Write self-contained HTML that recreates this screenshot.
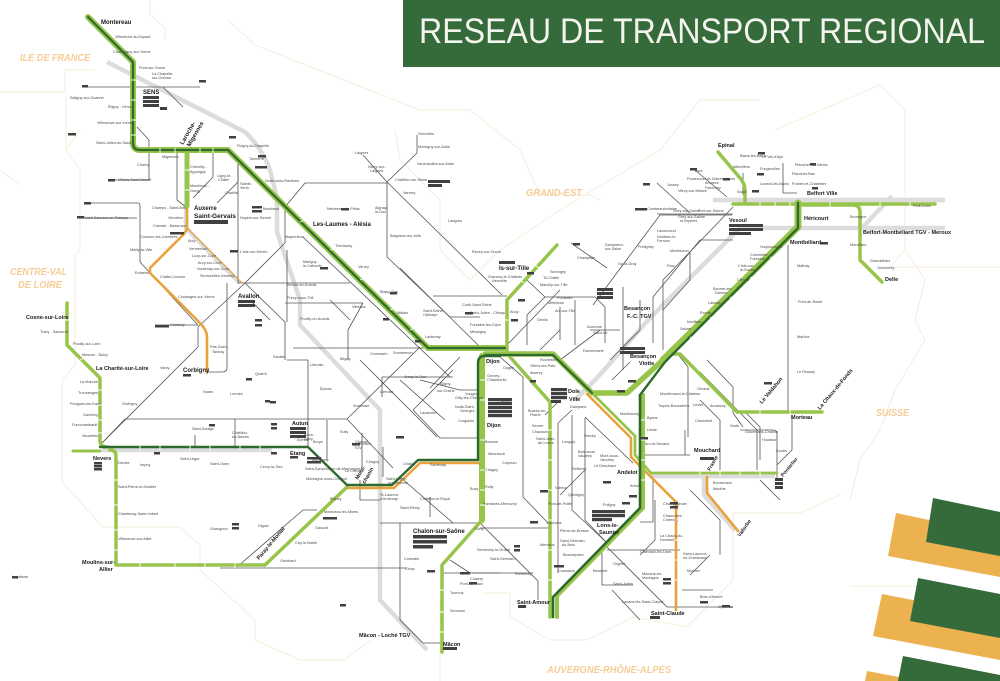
<!DOCTYPE html>
<html><head><meta charset="utf-8">
<style>
html,body{margin:0;padding:0;background:#fff;}
svg{display:block;}
.t{font-family:"Liberation Sans",sans-serif;font-size:3.8px;fill:#4a4a4a;}
.b{font-family:"Liberation Sans",sans-serif;font-weight:bold;fill:#1a1a1a;}
.r{font-family:"Liberation Sans",sans-serif;font-weight:bold;font-style:italic;fill:#f5cd95;}
.g{fill:none;stroke:#555;stroke-width:0.8;stroke-linejoin:round;}
.bx{fill:#404040;}
</style></head>
<body>
<svg width="1000" height="681" viewBox="0 0 1000 681" xmlns="http://www.w3.org/2000/svg">
<rect width="1000" height="681" fill="#fff"/>

<!-- region borders -->
<g fill="none" stroke="#f6eedc" stroke-width="1">
<path d="M0,92 H65 V70 H95"/>
<path d="M66,95 V150 L80,170 V250 L75,255 V365 L62,380 V482 L103,527 H180 L200,545 V570 L255,620 V640 L300,660 H345 L370,640"/>
<path d="M80,130 L66,150"/>
<path d="M150,0 V14 L165,28 V40"/>
<path d="M228,20 L255,45 L420,110 L470,110 L520,150 L540,195 L590,195 L600,200"/>
<path d="M395,130 L400,160 L440,200 L440,250 L470,280"/>
<path d="M470,280 L500,250 L560,210 L660,150 L700,100 L760,100"/>
<path d="M775,130 L880,85 L905,110 V250 L890,267 H1000"/>
<path d="M905,250 L925,280 L915,320 L925,340 L895,390 L880,430 L860,460 L850,500"/>
<path d="M482,593 H510 V617 L550,640 L587,640 L633,617 L687,627 L733,580 V513 H800 L840,495"/>
<path d="M850,586 H920"/>
<path d="M440,600 V681"/>
<path d="M0,170 L20,185"/>
</g>

<!-- TGV light gray -->
<g fill="none" stroke="#dcdcdc" stroke-width="4.5" stroke-linejoin="round">
<path d="M107,62 L245,132 Q262,148 270,170 L277,198 V232 L300,300 V325 L380,410 V600 L427,650"/>
<path d="M575,400 L597,378 L650,318 L740,228 H945"/>
<path d="M862,228 L892,196"/>
<path d="M713,200 H945"/>
<path d="M102,450 H272"/>
<path d="M650,476 H775"/>
<path d="M704,476 V495 L735,530"/>
<path d="M186,205 V228 L240,283"/>
</g>

<!-- thin gray network -->
<g class="g">
<path d="M82,87 H200"/><path d="M163,87 L183,107"/>
<path d="M137,127 L149,140 V180 H110"/>
<path d="M177,153 V200 L186,207"/>
<path d="M213,150 V177 L193,198"/>
<path d="M238,163 V182 L217,203"/>
<path d="M88,203 H138 Q140,203 140,206 V262 L198,325"/>
<path d="M77,218 H137"/><path d="M155,325 H198"/>
<path d="M102,443 L198,347 V327 L245,283"/>
<path d="M227,283 V368 Q227,372 222,372 H208"/>
<path d="M238,162 V283 H285"/>
<path d="M245,283 L285,243 V207 L305,183 H387"/>
<path d="M245,283 L285,322 V360"/>
<path d="M303,237 L450,377"/>
<path d="M285,283 H350"/><path d="M285,303 H363"/>
<path d="M348,360 V330 L363,303"/>
<path d="M293,348 H430"/>
<path d="M287,250 V322"/>
<path d="M287,360 H308 V447"/>
<path d="M387,182 V257 L450,317 H480"/>
<path d="M387,182 L502,295"/>
<path d="M387,182 L417,153 V135"/>
<path d="M387,182 L363,155"/>
<path d="M433,296 H507"/>
<path d="M400,268 L480,347"/>
<path d="M125,419 H347"/><path d="M125,419 L102,443"/>
<path d="M235,419 V447"/><path d="M195,435 V447"/>
<path d="M347,419 L420,347"/>
<path d="M347,419 L393,468"/>
<path d="M327,420 V460"/><path d="M362,433 V467"/>
<path d="M382,377 V397"/><path d="M382,377 H453"/>
<path d="M413,410 L453,370"/>
<path d="M413,410 L440,438 H477"/>
<path d="M360,360 L437,437"/>
<path d="M400,477 L453,523"/>
<path d="M383,447 V477"/>
<path d="M380,523 H477"/>
<path d="M430,497 V517"/>
<path d="M400,523 V620 L423,643 H440"/>
<path d="M450,560 L470,573 H500"/>
<path d="M220,568 H407"/>
<path d="M237,567 L303,510 H317"/>
<path d="M420,380 L460,390 H477"/>
<path d="M400,380 L445,420"/>
<path d="M460,357 L430,388"/>
<path d="M571,243 L607,268"/>
<path d="M593,305 L660,215 H732"/>
<path d="M653,297 L700,240 H733"/>
<path d="M653,297 V343"/><path d="M623,287 V370"/>
<path d="M690,253 V280 L663,310"/>
<path d="M545,297 H595 L605,307 V343"/>
<path d="M545,297 L527,315 V345"/>
<path d="M560,307 V340"/>
<path d="M507,345 L560,290"/>
<path d="M575,300 V345"/>
<path d="M590,330 H620"/>
<path d="M527,280 L545,297"/>
<path d="M500,357 L523,377 V497 L550,525"/>
<path d="M480,528 H550"/>
<path d="M480,523 L538,581 V600"/>
<path d="M443,573 H533"/>
<path d="M558,423 V573"/>
<path d="M558,423 L572,410"/>
<path d="M572,415 V510 L607,543"/>
<path d="M585,418 V520 L607,543"/>
<path d="M585,417 L633,463"/>
<path d="M607,547 L667,607 H733"/>
<path d="M607,550 H680"/>
<path d="M602,553 V585 H633"/>
<path d="M653,480 V522 H640"/>
<path d="M640,455 H690"/><path d="M685,430 V455"/>
<path d="M677,353 L688,367 V437"/>
<path d="M707,360 L733,387 V413 L743,427"/>
<path d="M740,430 H773 Q777,430 777,434 V480"/>
<path d="M792,417 V450 L777,465"/>
<path d="M682,590 H713"/>
<path d="M788,245 V413"/>
<path d="M783,163 V193 H797"/>
<path d="M743,173 V195"/>
<path d="M657,183 L690,213"/>
<path d="M733,207 L663,280 V350"/>
<path d="M727,197 L695,170"/>
<path d="M657,214 H733"/>
<path d="M700,372 L757,430 V470"/>
<path d="M745,412 L760,427 V460"/>
<path d="M700,400 L720,420 V470"/>
<path d="M610,360 L640,330 V300"/>
<path d="M560,360 L600,330"/>
<path d="M540,350 L560,330"/>
<path d="M612,380 L630,362"/>
<path d="M655,500 V540 L640,555"/>
<path d="M690,490 L720,520 V555"/>
<path d="M760,480 L780,500"/>
<path d="M360,480 V500 H380"/>
<path d="M330,300 L350,320"/>
<path d="M250,300 L270,320"/>
<path d="M560,400 L545,415"/>
<path d="M585,470 L560,495"/>
<path d="M612,590 L640,620"/>
<path d="M690,575 L710,555"/>
</g>

<!-- orange lines -->
<g fill="none" stroke="#e9a23b" stroke-width="2.6" stroke-linejoin="round" stroke-linecap="round">
<path d="M187,206 V228 Q186,232 183,235 L150,268 V273 L200,323 Q207,330 207,337 V372"/>
<path d="M188,229 L242,283" stroke-width="1.2"/>
<path d="M587,394 L631,438 V457 L676,502 V610"/>
<path d="M707,477 V493 L738,531"/>
<path d="M481,523 V463 H420 L394,488 H348"/>
</g>

<!-- light green lines -->
<g fill="none" stroke="#97c44a" stroke-linejoin="round" stroke-linecap="round">
<path stroke-width="6" d="M88,17 L133,62 V143 Q133,150 140,150 H228 L428,348 H505"/>
<path stroke-width="5" d="M187,150 V206"/>
<path stroke-width="3.5" d="M507,350 V300 L557,245"/>
<path stroke-width="6" d="M482,356 V520"/>
<path stroke-width="3.5" d="M482,520 L442,565 V652"/>
<path stroke-width="5.5" d="M485,354 H553 L592,393 H627 L663,360"/>
<path stroke-width="7" d="M663,360 L798,227 V203"/>
<path stroke-width="3.5" d="M733,204 H935"/>
<path stroke-width="3.5" d="M803,205 H853 Q860,205 860,212 V260 L882,282"/>
<path stroke-width="3.5" d="M718,152 L740,178 Q745,184 745,190 V202"/>
<path stroke-width="3.5" d="M672,354 H680 L737,412 H822"/>
<path stroke-width="4" d="M643,395 V508 L557,596 V617"/>
<path stroke-width="2.8" d="M591,392 L635,436 V455 L651,473 H777"/>
<path stroke-width="3.5" d="M510,357 L550,402 V617"/>
<path stroke-width="3.5" d="M67,303 V345 L100,378 V440 Q100,447 107,447"/>
<path stroke-width="3" d="M73,451 H100"/>
<path stroke-width="3.5" d="M110,450 Q116,450 116,456 V565 H265 L347,487"/>
</g>

<!-- dark green lines -->
<g fill="none" stroke="#2e6a2e" stroke-linejoin="round" stroke-linecap="round">
<path stroke-width="2.2" d="M88,17 L133,62 V143 Q133,150 140,150 H228 L428,348 H505"/>
<path stroke-width="2.4" d="M500,356 H485 Q478,356 478,363 V460 H418 L392,485 H347 L308,447 H100"/>
<path stroke-width="2.2" d="M485,355 H553 L592,393"/>
<path stroke-width="2.4" d="M640,395 L665,362 L798,228 V203"/>
<path stroke-width="2.6" d="M640,395 V508 L553,597 V617"/>
</g>

<!-- station boxes -->
<g class="bx">
<rect x="143" y="96" width="16" height="3"/><rect x="143" y="100" width="16" height="3"/><rect x="143" y="104" width="16" height="3"/>
<rect x="160" y="107" width="7" height="3"/>
<rect x="194" y="220" width="34" height="4"/>
<rect x="238" y="300" width="17" height="3"/><rect x="238" y="304" width="17" height="3"/>
<rect x="488" y="398" width="24" height="3.2"/><rect x="488" y="402" width="24" height="3.2"/><rect x="488" y="406" width="24" height="3.2"/><rect x="488" y="410" width="24" height="3.2"/><rect x="488" y="414" width="24" height="3.2"/>
<rect x="413" y="535" width="34" height="3.5"/><rect x="413" y="540" width="34" height="3.5"/><rect x="413" y="545" width="20" height="3.5"/>
<rect x="592" y="510" width="33" height="3.2"/><rect x="592" y="514" width="33" height="3.2"/><rect x="592" y="518" width="20" height="3.2"/>
<rect x="290" y="427" width="16" height="3"/><rect x="290" y="431" width="16" height="3"/><rect x="290" y="435" width="16" height="3"/>
<rect x="729" y="224" width="34" height="3"/><rect x="729" y="228" width="34" height="3"/><rect x="729" y="232" width="22" height="3"/>
<rect x="597" y="288" width="16" height="3"/><rect x="597" y="292" width="16" height="3"/><rect x="597" y="296" width="16" height="3"/>
<rect x="620" y="347" width="25" height="3"/><rect x="620" y="351" width="25" height="3"/>
<rect x="551" y="388" width="16" height="3.2"/><rect x="551" y="392" width="16" height="3.2"/><rect x="551" y="396" width="16" height="3.2"/><rect x="551" y="400" width="10" height="3"/>
<rect x="499" y="261" width="16" height="3"/>
<rect x="94" y="462" width="8" height="2.5"/><rect x="94" y="465" width="8" height="2.5"/><rect x="94" y="468" width="8" height="2.5"/>
<rect x="290" y="456" width="8" height="2.5"/>
<rect x="183" y="374" width="8" height="2.5"/>
<rect x="443" y="647" width="14" height="3"/>
<rect x="518" y="605" width="8" height="3"/>
<rect x="650" y="616" width="10" height="3"/>
<rect x="700" y="457" width="14" height="3"/>
<rect x="775" y="478" width="8" height="3"/><rect x="775" y="482" width="8" height="3"/><rect x="775" y="486" width="8" height="3"/>
<rect x="428" y="180" width="22" height="3"/><rect x="428" y="184" width="14" height="3"/>
<rect x="170" y="232" width="14" height="2.5"/>
<rect x="155" y="325" width="14" height="2.5"/>
<rect x="68" y="133" width="8" height="2.5"/><rect x="82" y="85" width="6" height="2.5"/>
<rect x="199" y="80" width="7" height="2.5"/>
<rect x="84" y="202" width="7" height="2.5"/><rect x="77" y="216" width="7" height="2.5"/>
<rect x="108" y="179" width="7" height="2.5"/>
<rect x="229" y="136" width="7" height="2.5"/><rect x="258" y="155" width="8" height="2.5"/>
<rect x="255" y="166" width="12" height="2.5"/>
<rect x="252" y="206" width="10" height="2.5"/><rect x="252" y="210" width="10" height="2.5"/>
<rect x="341" y="208" width="8" height="2.5"/>
<rect x="320" y="267" width="8" height="2.5"/>
<rect x="255" y="319" width="7" height="2.5"/><rect x="255" y="324" width="7" height="2.5"/>
<rect x="390" y="292" width="7" height="2.5"/>
<rect x="465" y="312" width="8" height="2.5"/>
<rect x="511" y="319" width="7" height="2.5"/>
<rect x="518" y="299" width="7" height="2.5"/>
<rect x="527" y="272" width="7" height="2.5"/>
<rect x="573" y="243" width="7" height="2.5"/>
<rect x="643" y="183" width="7" height="2.5"/>
<rect x="635" y="208" width="12" height="2.5"/>
<rect x="690" y="168" width="7" height="2.5"/><rect x="723" y="178" width="7" height="2.5"/>
<rect x="758" y="152" width="7" height="2.5"/><rect x="757" y="173" width="7" height="2.5"/><rect x="752" y="190" width="7" height="2.5"/>
<rect x="810" y="163" width="6" height="2.5"/><rect x="812" y="187" width="6" height="2.5"/>
<rect x="820" y="242" width="8" height="2.5"/>
<rect x="764" y="382" width="8" height="2.5"/>
<rect x="640" y="437" width="8" height="2.5"/>
<rect x="603" y="481" width="8" height="2.5"/>
<rect x="622" y="502" width="8" height="2.5"/><rect x="629" y="495" width="8" height="2.5"/>
<rect x="617" y="390" width="8" height="2.5"/><rect x="628" y="380" width="8" height="2.5"/>
<rect x="670" y="502" width="8" height="2.5"/><rect x="670" y="506" width="8" height="2.5"/>
<rect x="663" y="578" width="8" height="2.5"/><rect x="663" y="582" width="8" height="2.5"/>
<rect x="700" y="601" width="8" height="2.5"/><rect x="722" y="605" width="8" height="2.5"/>
<rect x="530" y="521" width="8" height="2.5"/>
<rect x="554" y="565" width="10" height="2.5"/>
<rect x="540" y="490" width="8" height="2.5"/>
<rect x="530" y="380" width="6" height="2.5"/>
<rect x="514" y="545" width="6" height="2.5"/><rect x="514" y="549" width="6" height="2.5"/>
<rect x="460" y="572" width="10" height="2.5"/>
<rect x="427" y="570" width="8" height="2.5"/>
<rect x="469" y="582" width="8" height="2.5"/>
<rect x="396" y="436" width="8" height="2.5"/>
<rect x="307" y="457" width="14" height="2.5"/><rect x="307" y="461" width="14" height="2.5"/>
<rect x="352" y="443" width="8" height="2.5"/>
<rect x="415" y="340" width="6" height="2.5"/>
<rect x="246" y="378" width="6" height="2.5"/><rect x="270" y="401" width="6" height="2.5"/>
<rect x="271" y="423" width="6" height="2.5"/><rect x="271" y="427" width="6" height="2.5"/>
<rect x="232" y="523" width="7" height="2.5"/><rect x="232" y="527" width="7" height="2.5"/>
<rect x="323" y="517" width="14" height="2.5"/>
<rect x="265" y="400" width="5" height="2.5"/>
<rect x="154" y="452" width="6" height="2.5"/><rect x="271" y="452" width="6" height="2.5"/>
<rect x="209" y="424" width="6" height="2.5"/>
<rect x="230" y="250" width="8" height="2.5"/>
<rect x="12" y="576" width="6" height="2.5"/>
<rect x="340" y="604" width="6" height="2.5"/>
<rect x="383" y="318" width="6" height="2.5"/>
</g>

<!-- decorations -->
<polygon points="896,513 1000,535 1000,577 888,556" fill="#ebb24f"/>
<polygon points="933,498 1000,512 1000,556 926,542" fill="#356a3a"/>
<polygon points="882,594 1000,617 1000,660 873,636" fill="#ebb24f"/>
<polygon points="918,578 1000,594 1000,638 910,621" fill="#356a3a"/>
<polygon points="867,671 920,681 865,681" fill="#ebb24f"/>
<polygon points="903,656 1000,675 1000,681 898,681" fill="#356a3a"/>

<!-- header -->
<rect x="403" y="0" width="597" height="67" fill="#356a3a"/>
<text x="419" y="43" font-family="Liberation Sans, sans-serif" font-size="35" fill="#f4f4ee" textLength="566" lengthAdjust="spacingAndGlyphs">RESEAU DE TRANSPORT REGIONAL</text>

<!-- region labels -->
<text class="r" x="20" y="61" font-size="10" textLength="70" lengthAdjust="spacingAndGlyphs">ILE DE FRANCE</text>
<text class="r" x="10" y="275" font-size="10" textLength="57" lengthAdjust="spacingAndGlyphs">CENTRE-VAL</text>
<text class="r" x="18" y="288" font-size="10" textLength="44" lengthAdjust="spacingAndGlyphs">DE LOIRE</text>
<text class="r" x="526" y="196" font-size="10" textLength="56" lengthAdjust="spacingAndGlyphs">GRAND-EST</text>
<text class="r" x="876" y="416" font-size="10" textLength="33" lengthAdjust="spacingAndGlyphs">SUISSE</text>
<text class="r" x="547" y="673" font-size="10" textLength="124" lengthAdjust="spacingAndGlyphs">AUVERGNE-RHÔNE-ALPES</text>

<!-- major station labels -->
<g class="b">
<text x="101" y="24" font-size="6">Montereau</text>
<text x="143" y="94" font-size="6">SENS</text>
<text x="183" y="145" font-size="6" transform="rotate(-60 183 145)">Laroche-</text>
<text x="190" y="147" font-size="6" transform="rotate(-60 190 147)">Migennes</text>
<text x="194" y="210" font-size="6">Auxerre</text>
<text x="194" y="218" font-size="6.5">Saint-Gervais</text>
<text x="313" y="226" font-size="6">Les-Laumes - Alésia</text>
<text x="238" y="298" font-size="6">Avallon</text>
<text x="183" y="372" font-size="6">Corbigny</text>
<text x="26" y="319" font-size="5.5">Cosne-sur-Loire</text>
<text x="96" y="370" font-size="5.5">La Charité-sur-Loire</text>
<text x="93" y="460" font-size="5.5">Nevers</text>
<text x="292" y="425" font-size="5.5">Autun</text>
<text x="290" y="455" font-size="5.5">Etang</text>
<text x="358" y="480" font-size="5.5" transform="rotate(-60 358 480)">Mont-</text>
<text x="365" y="484" font-size="5.5" transform="rotate(-60 365 484)">chanin</text>
<text x="82" y="564" font-size="5.5">Moulins-sur-</text>
<text x="99" y="571" font-size="5.5">Allier</text>
<text x="259" y="560" font-size="5.5" transform="rotate(-50 259 560)">Paray-le-Monial</text>
<text x="413" y="533" font-size="6">Chalon-sur-Saône</text>
<text x="359" y="637" font-size="5.5">Mâcon - Loché TGV</text>
<text x="443" y="646" font-size="5.5">Mâcon</text>
<text x="486" y="363" font-size="5.5">Dijon</text>
<text x="487" y="427" font-size="5.5">Dijon</text>
<text x="499" y="270" font-size="6">Is-sur-Tille</text>
<text x="568" y="393" font-size="5.5">Dole</text>
<text x="569" y="401" font-size="5.5">Ville</text>
<text x="624" y="310" font-size="5.5">Besançon</text>
<text x="627" y="318" font-size="5.5">F.-C. TGV</text>
<text x="630" y="358" font-size="5.5">Besançon</text>
<text x="639" y="365" font-size="5.5">Viotte</text>
<text x="729" y="222" font-size="5.5">Vesoul</text>
<text x="718" y="147" font-size="5.5">Epinal</text>
<text x="807" y="195" font-size="5.5">Belfort Ville</text>
<text x="804" y="220" font-size="5.5">Héricourt</text>
<text x="790" y="244" font-size="5.5">Montbéliard</text>
<text x="863" y="234" font-size="5.5">Belfort-Montbéliard TGV - Meroux</text>
<text x="885" y="281" font-size="5.5">Delle</text>
<text x="617" y="474" font-size="5.5">Andelot</text>
<text x="694" y="452" font-size="5.5">Mouchard</text>
<text x="710" y="471" font-size="5" transform="rotate(-60 710 471)">Frasne</text>
<text x="783" y="477" font-size="5" transform="rotate(-50 783 477)">Pontarlier</text>
<text x="740" y="537" font-size="5" transform="rotate(-55 740 537)">Vallorbe</text>
<text x="597" y="527" font-size="5.5">Lons-le-</text>
<text x="599" y="534" font-size="5.5">Saunier</text>
<text x="517" y="604" font-size="5.5">Saint-Amour</text>
<text x="651" y="615" font-size="5.5">Saint-Claude</text>
<text x="791" y="419" font-size="5.5">Morteau</text>
<text x="762" y="404" font-size="5.5" transform="rotate(-50 762 404)">Le Valdahon</text>
<text x="820" y="410" font-size="5.5" transform="rotate(-50 820 410)">La Chaux-de-Fonds</text>
</g>

<!-- small station labels -->
<g class="t">
<text x="115" y="38">Villeneuve-la-Guyard</text>
<text x="113" y="53">Champigny-sur-Yonne</text>
<text x="139" y="69">Pont-sur-Yonne</text>
<text x="152" y="75">La Chapelle-</text><text x="152" y="79">sur-Oreuse</text>
<text x="70" y="99">Saligny-sur-Ouanne</text>
<text x="108" y="108">Étigny - Véron</text>
<text x="97" y="124">Villeneuve-sur-Yonne</text>
<text x="96" y="144">Saint-Julien-du-Sault</text>
<text x="162" y="158">Migennes</text>
<text x="137" y="166">Charny</text>
<text x="118" y="181">Villiers-Saint-Benoît</text>
<text x="190" y="168">Chemilly -</text><text x="190" y="173">Appoigny</text>
<text x="190" y="187">Monéteau -</text><text x="190" y="192">Gurgy</text>
<text x="217" y="177">Ligny-le-</text><text x="218" y="181">Châtel</text>
<text x="225" y="194">Chablis</text>
<text x="84" y="219">Saint-Sauveur-en-Puisaye</text>
<text x="152" y="209">Champs - Saint-Bris</text>
<text x="168" y="219">Vincelles</text>
<text x="153" y="227">Cravant - Bazarnes</text>
<text x="140" y="238">Courson-les-Carrières</text>
<text x="130" y="251">Mailly-la-Ville</text>
<text x="188" y="242">Arcy</text>
<text x="189" y="250">Vermenton</text>
<text x="192" y="257">Lucy-sur-Cure</text>
<text x="198" y="264">Arcy-sur-Cure</text>
<text x="197" y="270">Voutenay-sur-Cure</text>
<text x="200" y="277">Sermizelles-Vézelay</text>
<text x="160" y="278">Châtel-Censoir</text>
<text x="178" y="298">Coulanges-sur-Yonne</text>
<text x="170" y="326">Clamecy</text>
<text x="210" y="348">Pas-Gueu -</text><text x="212" y="353">Tannay</text>
<text x="240" y="185">Sainte-</text><text x="240" y="189">Vertu</text>
<text x="240" y="219">Noyers-sur-Serein</text>
<text x="240" y="253">L'Isle-sur-Serein</text>
<text x="263" y="210">Montbard</text>
<text x="265" y="182">Nuits-sous-Ravières</text>
<text x="249" y="160">Tonnerre</text>
<text x="237" y="147">Flogny-la-Chapelle</text>
<text x="287" y="286">Semur-en-Auxois</text>
<text x="287" y="299">Précy-sous-Thil</text>
<text x="303" y="263">Marigny-</text><text x="303" y="267">le-Cahouët</text>
<text x="285" y="238">Mayrerieux</text>
<text x="327" y="210">Ménétreux-le-Pitois</text>
<text x="375" y="209">Aignay-</text><text x="375" y="213">le-Duc</text>
<text x="390" y="237">Baigneux-les-Juifs</text>
<text x="380" y="293">Blaisy-Bas</text>
<text x="358" y="268">Verrey</text>
<text x="335" y="247">Thenissey</text>
<text x="352" y="308">Vitteaux</text>
<text x="425" y="338">Lantenay</text>
<text x="397" y="314">Mâlain</text>
<text x="423" y="312">Saint-Seine-</text><text x="423" y="316">l'Abbaye</text>
<text x="393" y="354">Sombernon</text>
<text x="273" y="358">Saulieu</text>
<text x="310" y="366">Liernais</text>
<text x="395" y="181">Châtillon-sur-Seine</text>
<text x="355" y="154">Laignes</text>
<text x="418" y="148">Montigny-sur-Aube</text>
<text x="418" y="135">Gevrolles</text>
<text x="417" y="165">Veuxhaulles-sur-Aube</text>
<text x="403" y="194">Vanvey</text>
<text x="368" y="168">Nicey-sur-</text><text x="370" y="172">Laignes</text>
<text x="448" y="222">Langres</text>
<text x="472" y="253">Recey-sur-Ource</text>
<text x="488" y="278">Grancey-le-Château</text><text x="492" y="282">Neuvelle</text>
<text x="577" y="259">Champlitte</text>
<text x="550" y="273">Selongey</text>
<text x="543" y="279">Til-Châtel</text>
<text x="540" y="286">Marcilly-sur-Tille</text>
<text x="605" y="246">Dampierre-</text><text x="605" y="250">sur-Salon</text>
<text x="548" y="304">Mirebeau</text>
<text x="555" y="312">Arc-sur-Tille</text>
<text x="537" y="321">Genlis</text>
<text x="587" y="328">Auxonne</text>
<text x="557" y="299">Pontailler</text>
<text x="470" y="314">Saint-Julien - Clénay</text>
<text x="462" y="306">Curtil-Saint-Seine</text>
<text x="510" y="313">Ahuy</text>
<text x="470" y="326">Fontaine-lès-Dijon</text>
<text x="470" y="333">Messigny</text>
<text x="593" y="334">Saint-Vit</text>
<text x="583" y="352">Dannemarie</text>
<text x="540" y="361">Rochefort</text>
<text x="530" y="367">Villers-les-Pots</text>
<text x="695" y="172">Lure</text>
<text x="687" y="180">Polaincourt-et-Clairefontaine</text>
<text x="705" y="184">Amance</text>
<text x="705" y="189">Faverney</text>
<text x="673" y="212">Scey-sur-Saône</text>
<text x="698" y="212">Port-sur-Saône</text>
<text x="647" y="210">Combeaufontaine</text>
<text x="667" y="186">Jussey</text>
<text x="678" y="192">Vitrey-sur-Mance</text>
<text x="678" y="218">Grey-sur-Saône</text><text x="680" y="222">et Bryères</text>
<text x="657" y="232">Lavoncourt</text>
<text x="657" y="238">Noidans-le-</text><text x="657" y="242">Ferroux</text>
<text x="638" y="248">Fretigney</text>
<text x="670" y="252">Montbozon</text>
<text x="667" y="267">Rioz</text>
<text x="618" y="265">Gy-la-Gray</text>
<text x="733" y="168">Aillevillers</text>
<text x="740" y="157">Bains-les-Bains</text>
<text x="762" y="158">Le Val-d'Ajol</text>
<text x="760" y="170">Fougerolles</text>
<text x="760" y="185">Luxeuil-les-Bains</text>
<text x="737" y="193">Saulx</text>
<text x="795" y="166">Plancher-les-Mines</text>
<text x="792" y="175">Plancher-Bas</text>
<text x="792" y="185">Frahier-et-Chatebier</text>
<text x="913" y="207">Petit-Croix</text>
<text x="850" y="218">Bourogne</text>
<text x="850" y="246">Morvillars</text>
<text x="870" y="262">Grandvillars</text>
<text x="877" y="269">Joncherey</text>
<text x="760" y="248">Voujeaucourt</text>
<text x="750" y="256">Colombier-</text><text x="750" y="260">Fontaine</text>
<text x="738" y="267">L'Isle-sur-</text><text x="740" y="271">le-Doubs</text>
<text x="737" y="281">Clerval</text>
<text x="713" y="290">Baume-les-</text><text x="715" y="294">Dames</text>
<text x="708" y="304">Laissey</text>
<text x="700" y="314">Roche</text>
<text x="687" y="323">Novillars</text>
<text x="797" y="338">Maîche</text>
<text x="798" y="303">Pont-de-Roide</text>
<text x="797" y="267">Mathay</text>
<text x="797" y="373">Le Russey</text>
<text x="680" y="330">Saône</text>
<text x="503" y="369">Ouges</text>
<text x="530" y="374">Aiserey</text>
<text x="528" y="412">Brazey-en-</text><text x="530" y="416">Plaine</text>
<text x="532" y="427">Seurre</text>
<text x="536" y="440">Saint-Jean-</text><text x="538" y="444">de-Losne</text>
<text x="485" y="443">Beaune</text>
<text x="488" y="455">Meursault</text>
<text x="485" y="471">Chagny</text>
<text x="485" y="488">Rully</text>
<text x="483" y="505">Fontaines-Mercurey</text>
<text x="502" y="464">Corpeau</text>
<text x="487" y="377">Gevrey-</text><text x="487" y="381">Chambertin</text>
<text x="465" y="395">Vougeot</text><text x="455" y="399">Gilly-lès-Cîteaux</text>
<text x="455" y="408">Nuits-Saint-</text><text x="460" y="412">Georges</text>
<text x="458" y="422">Corgoloin</text>
<text x="547" y="524">Louhans</text>
<text x="560" y="532">Pierre-de-Bresse</text>
<text x="560" y="542">Saint-Germain-</text><text x="562" y="546">du-Bois</text>
<text x="540" y="546">Mervans</text>
<text x="563" y="556">Beaurepaire</text>
<text x="477" y="551">Sennecey-le-Grand</text>
<text x="460" y="585">Pont-de-Vaux</text>
<text x="450" y="612">Senozan</text>
<text x="558" y="572">Cousance</text>
<text x="593" y="572">Beaufort</text>
<text x="613" y="565">Orgelet</text>
<text x="613" y="585">Saint-Julien</text>
<text x="622" y="603">Lavans-lès-Saint-Claude</text>
<text x="642" y="575">Moirans-en-</text><text x="642" y="579">Montagne</text>
<text x="640" y="553">Clairvaux-les-Lacs</text>
<text x="683" y="555">Saint-Laurent-</text><text x="683" y="559">en-Grandvaux</text>
<text x="687" y="572">Morbier</text>
<text x="700" y="598">Bois-d'Amont</text>
<text x="718" y="608">Oyonnax</text>
<text x="663" y="505">Champagnole</text>
<text x="663" y="517">Chaux-des-</text><text x="663" y="521">Crotenay</text>
<text x="660" y="537">La Chaux-du-</text><text x="660" y="541">Dombief</text>
<text x="603" y="506">Poligny</text>
<text x="630" y="487">Arbois</text>
<text x="600" y="457">Mont-sous-</text><text x="600" y="461">Vaudrey</text>
<text x="594" y="467">Le Deschaux</text>
<text x="584" y="437">Parcey</text>
<text x="660" y="395">Montferrand-le-Château</text>
<text x="658" y="407">Torpes-Boussières</text>
<text x="647" y="419">Byans</text>
<text x="647" y="431">Liesle</text>
<text x="645" y="445">Arc-et-Senans</text>
<text x="620" y="415">Montbarrey</text>
<text x="693" y="406">Levier</text>
<text x="697" y="390">Ornans</text>
<text x="695" y="422">Chouzelot</text>
<text x="710" y="407">Amancey</text>
<text x="730" y="427">Nods</text>
<text x="745" y="433">Gounefans-Chabon</text>
<text x="762" y="441">Houtaud</text>
<text x="713" y="484">Bonnevaux</text>
<text x="713" y="490">Mouthe</text>
<text x="776" y="452">Doubs</text>
<text x="570" y="408">Damparis</text>
<text x="562" y="443">Longwy</text>
<text x="572" y="470">Sellières</text>
<text x="578" y="453">Bois-sous-</text><text x="578" y="457">Vaudrey</text>
<text x="555" y="489">Voiteur</text>
<text x="568" y="496">Quintigny</text>
<text x="548" y="505">Pont-de-Poitte</text>
<text x="532" y="433">Chaussin</text>
<text x="498" y="403">Citeaux</text>
<text x="440" y="385">Bligny-</text>
<text x="437" y="392">sur-Ouche</text>
<text x="420" y="414">Lacanche</text>
<text x="404" y="378">Arnay-le-Duc</text>
<text x="380" y="393">Liernais</text>
<text x="353" y="407">Sommant</text>
<text x="345" y="472">Le Creusot</text>
<text x="352" y="445">Le Creusot</text><text x="354" y="449">TGV</text>
<text x="366" y="463">Chagny</text>
<text x="386" y="480">Saint-Léger-</text><text x="388" y="484">sur-Dheune</text>
<text x="403" y="465">Chalon</text>
<text x="430" y="466">Santenay</text>
<text x="420" y="500">Châtillon-le-Royal</text>
<text x="400" y="509">Saint-Rémy</text>
<text x="380" y="496">St-Laurent-</text><text x="380" y="500">d'Andenay</text>
<text x="312" y="461">Montagny</text>
<text x="305" y="470">Saint-Symphorien-de-Marmagne</text>
<text x="306" y="480">Montagne-sous-Creusot</text>
<text x="313" y="443">Broye</text>
<text x="297" y="441">Epinac</text>
<text x="304" y="436">Brion-</text><text x="304" y="440">Laizy</text>
<text x="340" y="433">Sully</text>
<text x="355" y="443">Change</text>
<text x="330" y="500">Blanzy</text>
<text x="324" y="513">Montceau-les-Mines</text>
<text x="315" y="529">Galuzot</text>
<text x="295" y="544">Ciry-le-Noble</text>
<text x="280" y="562">Génelard</text>
<text x="258" y="527">Digoin</text>
<text x="210" y="530">Gueugnon</text>
<text x="405" y="570">Cluny</text>
<text x="12" y="578">Lapalisse</text>
<text x="118" y="488">Saint-Pierre-le-Moûtier</text>
<text x="118" y="515">Chantenay-Saint-Imbert</text>
<text x="118" y="540">Villeneuve-sur-Allier</text>
<text x="118" y="464">Decize</text>
<text x="40" y="333">Tracy - Sancerre</text>
<text x="73" y="345">Pouilly-sur-Loire</text>
<text x="82" y="356">Mesves - Bulcy</text>
<text x="80" y="383">La Marche</text>
<text x="78" y="394">Tronsanges</text>
<text x="70" y="405">Pougues-les-Eaux</text>
<text x="83" y="416">Garchizy</text>
<text x="72" y="426">Fourchambault</text>
<text x="82" y="437">Vauzelles</text>
<text x="160" y="369">Varzy</text>
<text x="122" y="405">Guérigny</text>
<text x="135" y="274">Entrains</text>
<text x="192" y="430">Saint-Saulge</text>
<text x="232" y="434">Châtillon-</text><text x="232" y="438">en-Bazois</text>
<text x="140" y="466">Imphy</text>
<text x="180" y="460">Saint-Léger</text>
<text x="260" y="468">Cercy-la-Tour</text>
<text x="210" y="465">Saint-Ouen</text>
<text x="470" y="580">Cuisery</text>
<text x="404" y="560">Cormatin</text>
<text x="450" y="594">Tournus</text>
<text x="490" y="560">Saint-Germain-</text>
<text x="515" y="575">Romenay</text>
<text x="470" y="490">Buxy</text>
<text x="475" y="530">Givry</text>
<text x="300" y="320">Pouilly-en-Auxois</text>
<text x="320" y="390">Épinac</text>
<text x="340" y="360">Bligny</text>
<text x="370" y="355">Commarin</text>
<text x="230" y="395">Lormes</text>
<text x="255" y="375">Quarré</text>
<text x="203" y="393">Nuars</text>
</g>

<!-- station ticks on main lines -->
<g stroke="#fff" stroke-width="0.9">
<path d="M131,80 H136 M131,100 H136 M131,120 H136 M131,135 H136"/>
<path d="M160,148 V153 M175,148 V153 M200,148 V153 M213,148 V153"/>
<path d="M185,170 H190 M185,190 H190"/>
<path d="M300,222 L305,220 M330,250 L335,248 M360,280 L365,278 M390,310 L395,308 M410,330 L415,328"/>
<path d="M480,380 H485 M480,400 H485 M480,440 H485 M480,470 H485 M480,490 H485 M480,505 H485"/>
<path d="M440,590 H445 M440,612 H445 M440,632 H445"/>
<path d="M114,480 H119 M114,505 H119 M114,530 H119 M114,550 H119"/>
<path d="M140,563 V568 M175,563 V568 M205,563 V568 M235,563 V568"/>
<path d="M98,390 H103 M98,405 H103 M98,420 H103 M98,433 H103"/>
<path d="M65,320 H70 M80,360 L84,358"/>
<path d="M140,445 V450 M160,445 V450 M190,445 V450 M210,445 V450 M240,445 V450 M260,445 V450"/>
<path d="M690,337 L694,339 M710,317 L714,319 M730,297 L734,299 M750,277 L754,279 M770,257 L774,259"/>
<path d="M641,420 H646 M641,440 H646 M641,460 H646 M641,480 H646"/>
<path d="M675,520 H680 M675,540 H680 M675,560 H680 M675,580 H680"/>
<path d="M700,471 V476 M720,471 V476 M740,471 V476 M760,471 V476"/>
<path d="M760,410 V415 M790,410 V415"/>
<path d="M760,202 V207 M775,202 V207 M790,202 V207 M830,202 V207 M880,202 V207 M910,202 V207"/>
<path d="M548,430 H553 M548,460 H553 M548,490 H553 M548,520 H553 M548,550 H553 M548,580 H553"/>
<path d="M505,320 H510 M520,280 L524,283 M535,265 L539,268"/>
</g>
</svg>
</body></html>
